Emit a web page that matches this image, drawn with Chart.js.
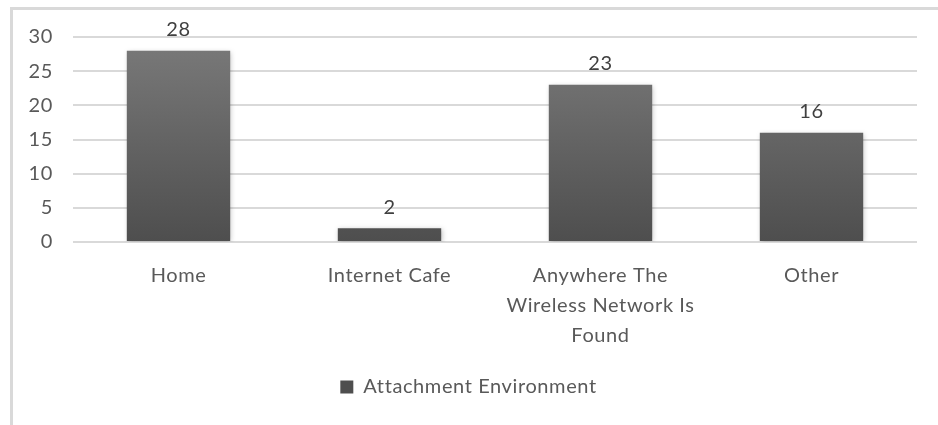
<!DOCTYPE html>
<html>
<head>
<meta charset="utf-8">
<script src="https://cdn.jsdelivr.net/npm/chart.js@4"></script>
<style>
  body { margin: 0; background: #fff; }
  #moldura {
    position: absolute; left: 10px; top: 7px; width: 928px; height: 418px;
    border-top: 3px solid #d9d9d9; border-left: 3px solid #d9d9d9;
    box-sizing: border-box;
  }
  #caixa { position: absolute; left: 0; top: 0; width: 938px; height: 425px; }
</style>
</head>
<body>
<div id="moldura"></div>
<div id="caixa"><canvas id="gBarras"></canvas></div>
<script>
// Dados do gráfico
const categorias = ['Home', 'Internet Cafe', ['Anywhere The', 'Wireless Network Is', 'Found'], 'Other'];
const valores = [28, 2, 23, 16];
const rotuloSerie = 'Attachment Environment';
const ticksY = [0, 5, 10, 15, 20, 25, 30];

const fonte = "Lato, 'Open Sans', sans-serif";

// espaçamento entre letras (o original é mais "largo")
const pluginEspaco = {
  id: 'espaco',
  beforeLayout(chart) { chart.ctx.letterSpacing = '0.6px'; },
  beforeDraw(chart) { chart.ctx.letterSpacing = '0.6px'; }
};

// rótulos de valor em cima das barras
const pluginRotulos = {
  id: 'rotulos',
  afterDatasetsDraw(chart) {
    const c = chart.ctx;
    const meta = chart.getDatasetMeta(0);
    c.save();
    c.font = '20px ' + fonte;
    c.fillStyle = '#404040';
    c.textAlign = 'center';
    c.textBaseline = 'middle';
    meta.data.forEach((barra, i) => {
      c.fillText(String(valores[i]), barra.x, barra.y - 21);
    });
    c.restore();
  }
};

// sombra leve nas barras
const pluginSombra = {
  id: 'sombra',
  beforeDatasetDraw(chart) {
    const c = chart.ctx;
    c.save();
    c.shadowColor = 'rgba(0,0,0,0.25)';
    c.shadowBlur = 5;
    c.shadowOffsetX = 1;
    c.shadowOffsetY = 1;
  },
  afterDatasetDraw(chart) {
    chart.ctx.restore();
  }
};

const ctxBarras = document.getElementById('gBarras').getContext('2d');
const myChartBarras = new Chart(ctxBarras, {
  type: 'bar',
  data: {
    labels: categorias,
    datasets: [{
      label: rotuloSerie,
      data: valores,
      backgroundColor: function (context) {
        const area = context.chart.chartArea;
        if (!area) return '#5f5f5f';
        const g = context.chart.ctx.createLinearGradient(0, area.top, 0, area.bottom);
        g.addColorStop(0, '#7a7a7a');
        g.addColorStop(1, '#4e4e4e');
        return g;
      },
      categoryPercentage: 0.49,
      barPercentage: 1
    }]
  },
  options: {
    responsive: true,
    maintainAspectRatio: false,
    animation: false,
    layout: { padding: { left: 20, right: 21, top: 37, bottom: 18 } },
    scales: {
      x: {
        grid: { display: false },
        border: { display: false },
        ticks: {
          color: '#595959',
          font: { family: fonte, size: 20, lineHeight: 1.5 },
          padding: 11,
          maxRotation: 0,
          autoSkip: false
        },
        afterFit: function (scale) { scale.height = 125; }
      },
      y: {
        min: 0,
        max: 30,
        afterBuildTicks: function (scale) { scale.ticks = ticksY.map(v => ({ value: v })); },
        grid: { color: '#d9d9d9', lineWidth: 2, drawTicks: false },
        border: { display: false },
        ticks: {
          color: '#595959',
          font: { family: fonte, size: 20 },
          padding: 20
        },
        afterFit: function (scale) { scale.width = 53; }
      }
    },
    plugins: {
      tooltip: { enabled: false },
      legend: {
        display: true,
        position: 'bottom',
        labels: {
          color: '#595959',
          boxWidth: 13,
          boxHeight: 13,
          padding: 10,
          font: { family: fonte, size: 20 }
        }
      }
    }
  },
  plugins: [pluginEspaco, pluginSombra, pluginRotulos]
});
</script>
</body>
</html>
